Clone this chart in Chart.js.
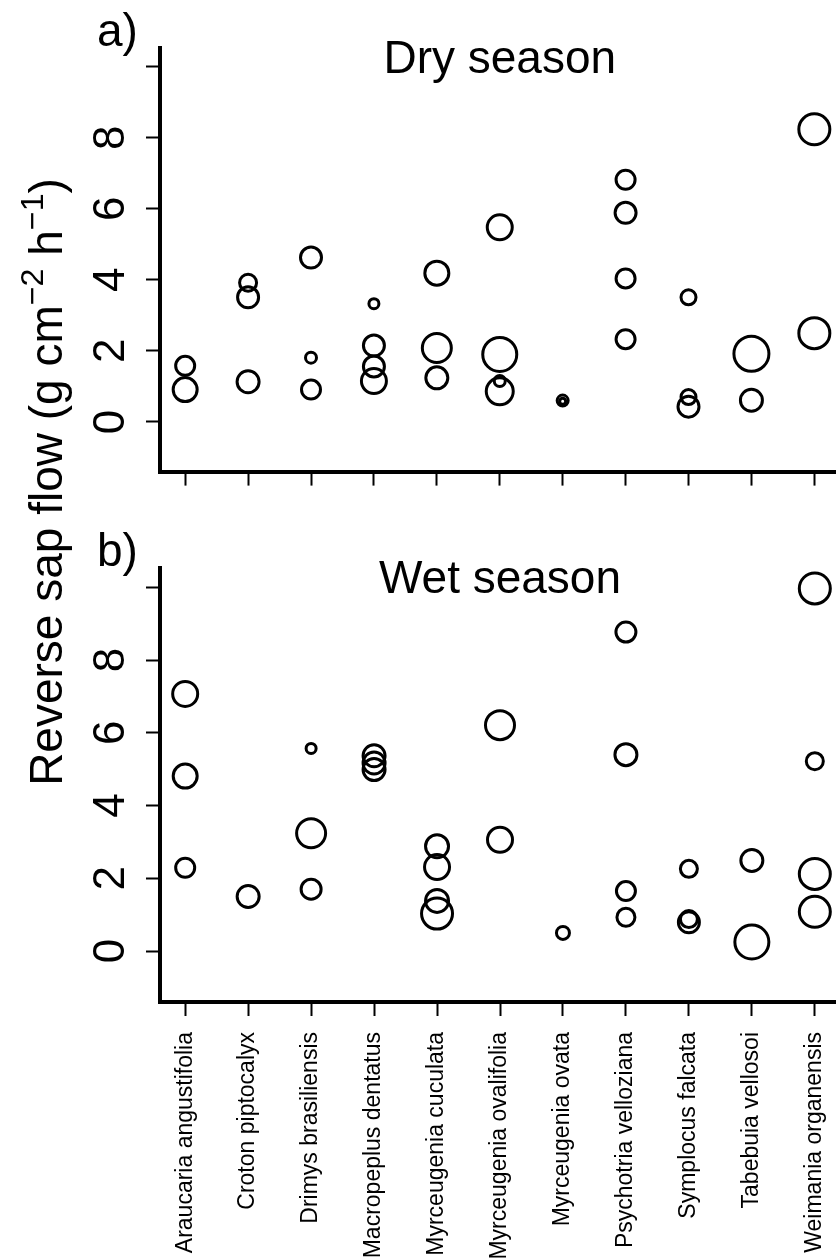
<!DOCTYPE html>
<html>
<head>
<meta charset="utf-8">
<script src="https://cdn.jsdelivr.net/npm/chart.js@4.4.1/dist/chart.umd.min.js"></script>
<style>
  html, body { margin: 0; padding: 0; background: #fff; }
  body { width: 836px; height: 1260px; overflow: hidden; position: relative; font-family: "Liberation Sans", Arial, sans-serif; }
  canvas { position: absolute; left: 0; }
  #ylab {
    position: absolute; left: -304px; top: 459px; width: 700px; height: 46px;
    line-height: 46px; font-size: 46px; text-align: center; white-space: nowrap;
    transform: rotate(-90deg); color: #000;
  }
  #ylab sup { font-size: 0.7em; vertical-align: 0.6em; line-height: 0; }
</style>
</head>
<body>
<canvas id="dry" width="860" height="520" style="top:0"></canvas>
<canvas id="wet" width="860" height="740" style="top:520px"></canvas>
<div id="ylab">Reverse sap flow (g cm<sup>−2</sup> h<sup>−1</sup>)</div>
<script>
const FONT = '"Liberation Sans", Arial, sans-serif';

const species = [
  "Araucaria angustifolia", "Croton piptocalyx", "Drimys brasiliensis",
  "Macropeplus dentatus", "Myrceugenia cuculata", "Myrceugenia ovalifolia",
  "Myrceugenia ovata", "Psychotria velloziana", "Symplocus falcata",
  "Tabebuia vellosoi", "Weimania organensis"
];

const yTicks = [0, 2, 4, 6, 8, 10];
const yTickLabels = ["0", "2", "4", "6", "8", ""];

// dry season: species number, reverse flow, bubble size
const drySpecies = [1, 1, 2, 2, 2, 3, 3, 3, 4, 4, 4, 4, 5, 5, 5, 6, 6, 6, 6, 7, 7, 8, 8, 8, 8, 9, 9, 9, 10, 10, 11, 11];
const dryFlow = [1.58, 0.91, 3.92, 3.51, 1.13, 4.63, 1.81, 0.91, 3.33, 2.15, 1.56, 1.15, 4.19, 2.08, 1.24,
  5.48, 1.90, 1.15, 0.86, 0.60, 0.58, 6.82, 5.89, 4.04, 2.33, 3.51, 0.70, 0.43, 1.92, 0.61, 8.24, 2.50];
const drySize = [1.9, 2.4, 1.7, 2.1, 2.2, 2.1, 1.1, 1.9, 1.0, 2.1, 2.1, 2.5, 2.4, 2.9, 2.2,
  2.5, 3.4, 1.1, 2.7, 1.1, 0.6, 1.9, 2.1, 1.9, 1.9, 1.5, 1.5, 2.1, 3.5, 2.2, 3.1, 3.1];

// wet season
const wetSpecies = [1, 1, 1, 2, 3, 3, 3, 4, 4, 4, 5, 5, 5, 5, 6, 6, 7, 8, 8, 8, 8, 9, 9, 9, 10, 10, 11, 11, 11, 11];
const wetFlow = [7.07, 4.81, 2.29, 1.50, 5.57, 3.24, 1.70, 5.37, 5.17, 4.99, 2.88, 2.31, 1.38, 1.03,
  6.21, 3.06, 0.50, 8.77, 5.40, 1.65, 0.93, 2.26, 0.88, 0.79, 2.49, 0.25, 9.97, 5.22, 2.12, 1.08];
const wetSize = [2.5, 2.4, 1.9, 2.2, 1.0, 2.9, 2.0, 2.2, 2.2, 2.2, 2.3, 2.5, 2.3, 3.1,
  2.9, 2.5, 1.3, 2.0, 2.2, 1.9, 1.8, 1.7, 1.7, 2.1, 2.2, 3.4, 3.1, 1.7, 3.1, 3.1];

const SIZE_PX = 5;

// panel title and a)/b) tag, drawn inside the plot like R's text()
const panelText = {
  id: "panelText",
  afterDraw(chart, args, opts) {
    const ctx = chart.ctx;
    const a = chart.chartArea;
    ctx.save();
    ctx.fillStyle = "#000";
    ctx.textBaseline = "alphabetic";
    ctx.font = "46px " + FONT;
    ctx.textAlign = "center";
    ctx.fillText(opts.title, (a.left + a.right) / 2, a.top + 25);
    ctx.textAlign = "left";
    ctx.fillText(opts.tag, 97, a.top - 2);
    ctx.restore();
  }
};

function axisLines() {
  return {
    grid: { drawOnChartArea: false, drawTicks: true, tickLength: 14, tickWidth: 2, tickColor: "#000", color: "#000" },
    border: { display: true, color: "#000", width: 4 }
  };
}

function makeChart(id, spIdx, flow, size, title, tag, showNames, padTop, xHeight) {
  const pts = spIdx.map((s, i) => ({ x: s, y: flow[i], r: size[i] * SIZE_PX }));
  return new Chart(document.getElementById(id), {
    type: "bubble",
    data: {
      datasets: [{
        data: pts,
        backgroundColor: "rgba(0,0,0,0)",
        borderColor: "#000",
        borderWidth: 3,
        clip: false
      }]
    },
    options: {
      responsive: false,
      animation: false,
      events: [],
      layout: { padding: { top: padTop, right: 16, left: 0, bottom: 0 } },
      plugins: {
        legend: { display: false },
        tooltip: { enabled: false },
        panelText: { title: title, tag: tag }
      },
      scales: {
        x: {
          type: "linear",
          min: 0.6,
          max: 11.4,
          afterBuildTicks: s => { s.ticks = species.map((_, i) => ({ value: i + 1 })); },
          afterFit: s => { s.height = xHeight; },
          ...axisLines(),
          ticks: {
            display: showNames,
            autoSkip: false,
            minRotation: 90,
            maxRotation: 90,
            padding: 16,
            color: "#000",
            font: { size: 23, family: FONT },
            callback: v => species[v - 1]
          }
        },
        y: {
          type: "linear",
          min: -1.4,
          max: 10.52,
          afterBuildTicks: s => { s.ticks = yTicks.map(v => ({ value: v })); },
          afterFit: s => { s.width = 160; },
          ...axisLines(),
          ticks: {
            minRotation: 90,
            maxRotation: 90,
            crossAlign: "center",
            padding: 22,
            color: "#000",
            font: { size: 44, family: FONT },
            callback: v => yTickLabels[yTicks.indexOf(v)]
          }
        }
      }
    },
    plugins: [panelText]
  });
}

makeChart("dry", drySpecies, dryFlow, drySize, "Dry season", "a)", false, 44, 38);
makeChart("wet", wetSpecies, wetFlow, wetSize, "Wet season", "b)", true, 45, 258);
</script>
</body>
</html>
